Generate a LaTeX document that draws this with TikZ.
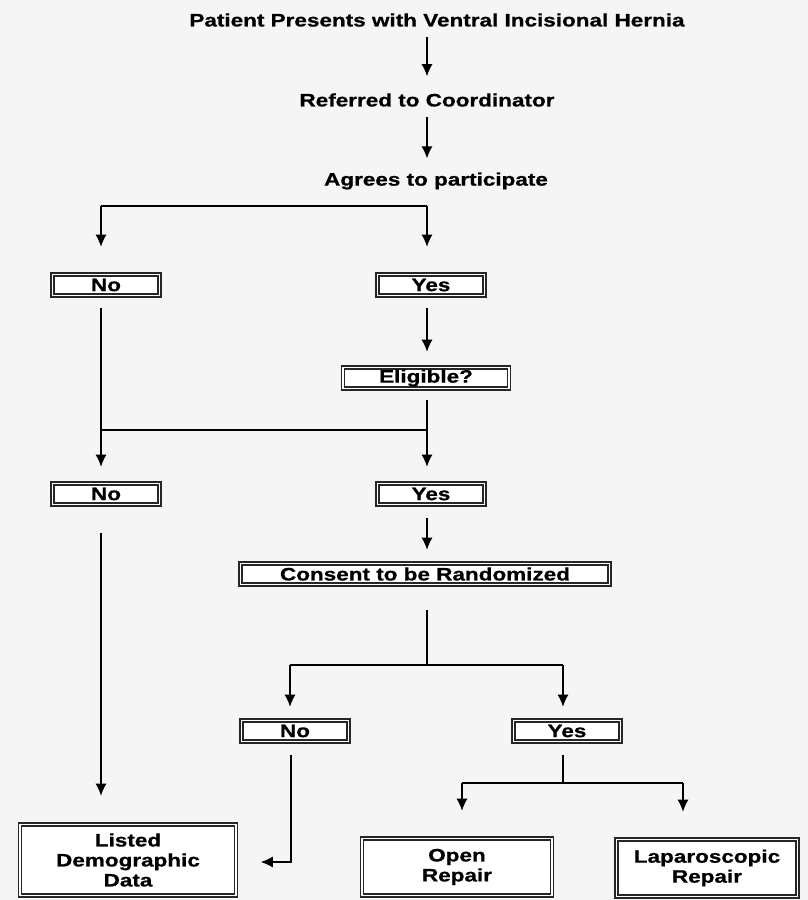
\documentclass[tikz,border=0pt]{standalone}
\usepackage{fontspec}
\setmainfont{Liberation Sans}[FakeStretch=1.25, BoldFeatures={FakeBold=0.8}]
\usetikzlibrary{arrows.meta}

\tikzset{
lbl/.style={font=\bfseries\fontsize{18}{20}\selectfont, inner sep=2pt},
box/.style={draw=black!85, double=white, double distance=1.4pt, line width=1.6pt,
  fill=white, font=\bfseries\fontsize{18}{20}\selectfont, inner sep=1pt,
  minimum width=107pt, minimum height=21pt},
bigbox/.style={box, align=center, minimum height=71pt},
arr/.style={->, line width=1.2pt},
ln/.style={line width=1.2pt}
}

\begin{document}
\begin{tikzpicture}[x=1pt,y=-1pt,>={Latex[length=12pt,width=11pt]}]
\fill[black!4] (0,0) rectangle (808,900);
\useasboundingbox (0,0) rectangle (808,900);

% Steps
\node[lbl] (pres) at (437,20) {Patient Presents with Ventral Incisional Hernia};
\node[lbl] (coord) at (427,100) {Referred to Coordinator};
\node[lbl] (agree) at (436,181) {Agrees to participate};

% Answers
\node[box] (no1) at (106,285) {No};
\node[box] (yes1) at (431,285) {Yes};
\node[box, minimum width=166pt] (elig) at (426,378) {Eligible?};
\node[box] (no2) at (106,494) {No};
\node[box] (yes2) at (431,494) {Yes};
\node[box, minimum width=369pt] (cons) at (425,574) {Consent to be Randomized};
\node[box] (no3) at (295,731) {No};
\node[box] (yes3) at (567,731) {Yes};

% Outcomes
\node[bigbox, minimum width=216pt] (list) at (128,860) {Listed\\Demographic\\Data};
\node[bigbox, minimum width=190pt, minimum height=57pt] (open) at (457,867) {Open\\Repair};
\node[bigbox, minimum width=181pt, minimum height=57pt] (lap) at (707,868) {Laparoscopic\\Repair};

% Junctions
\coordinate (s1) at (427,206);
\coordinate (s1l) at (101,206);
\coordinate (s2) at (427,430);
\coordinate (s2l) at (101,430);
\coordinate (s3) at (427,665);
\coordinate (s3l) at (290,665);
\coordinate (s3r) at (563,665);
\coordinate (back) at (291,862);
\coordinate (s4) at (563,783);
\coordinate (s4l) at (462,783);
\coordinate (s4r) at (683,783);

% Connectors
\draw[arr, shorten <=8pt, shorten >=15pt] (pres.south -| coord) -- (coord.north);
\draw[arr, shorten <=8pt, shorten >=12pt] (coord.south) -- (coord.south |- agree.north);
\draw[ln] (s1l) -- (s1);
\draw[arr, shorten >=27pt] (s1l) -- (s1l |- no1.north);
\draw[arr, shorten >=27pt] (s1) -- (s1 |- yes1.north);

\draw[arr, shorten <=12pt, shorten >=15pt] (yes1.south -| s1) -- (elig.north -| s1);
\draw[arr, shorten <=12pt, shorten >=16pt] (no1.south -| s1l) -- (no2.north -| s1l);
\draw[ln] (s2l) -- (s2);
\draw[arr, shorten <=11pt, shorten >=16pt] (elig.south -| s2) -- (yes2.north -| s2);

\draw[arr, shorten <=13pt, shorten >=13pt] (yes2.south -| s2) -- (cons.north -| s2);
\draw[ln, shorten <=25pt] (cons.south -| s3) -- (s3);
\draw[ln] (s3l) -- (s3r);
\draw[arr, shorten >=13pt] (s3l) -- (s3l |- no3.north);
\draw[arr, shorten >=13pt] (s3r) -- (s3r |- yes3.north);

\draw[arr, shorten <=28pt, shorten >=28pt] (no2.south -| s1l) -- (list.north -| s1l);
\draw[arr, shorten <=13pt, shorten >=24pt] (no3.south -| back) -- (back) -- (list.east |- back);

\draw[ln, shorten <=13pt] (yes3.south -| s4) -- (s4);
\draw[ln] (s4l) -- (s4r);
\draw[arr, shorten >=27pt] (s4l) -- (s4l |- open.north);
\draw[arr, shorten >=27pt] (s4r) -- (s4r |- lap.north);
\end{tikzpicture}
\end{document}
